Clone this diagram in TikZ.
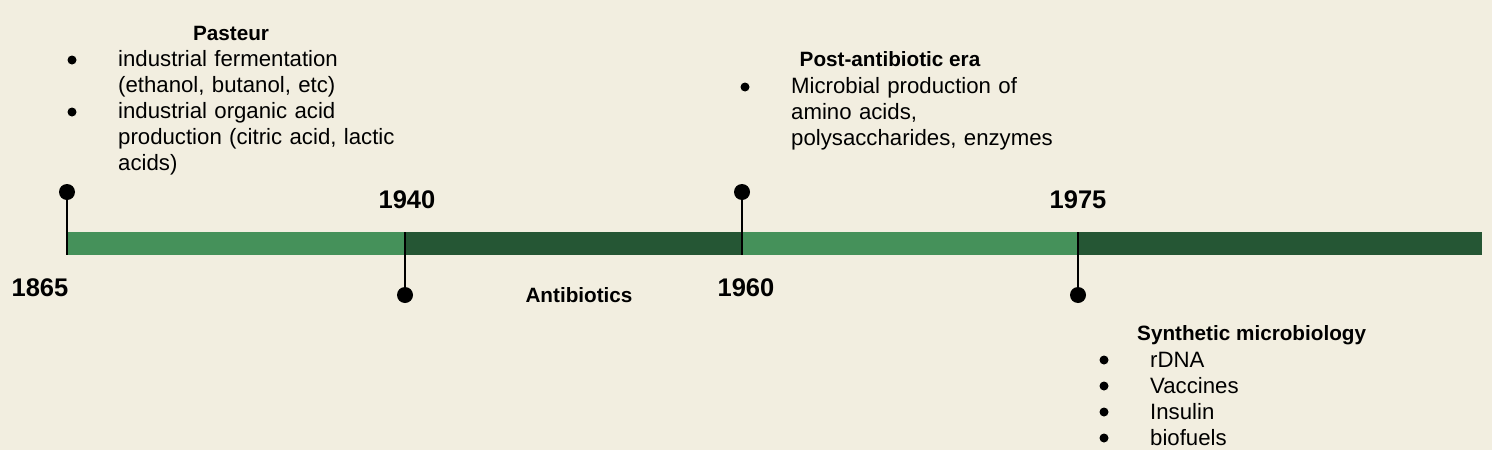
\documentclass[tikz,border=0pt]{standalone}
\usepackage{fontspec}
\setmainfont{Liberation Sans}
\definecolor{paper}{HTML}{F2EEE0}
\definecolor{lightgreen}{HTML}{45915A}
\definecolor{darkgreen}{HTML}{255634}
\begin{document}
\begin{tikzpicture}[x=1pt,y=-1pt,
	dot/.style={shape=circle,fill=black,inner sep=0pt,minimum size=16pt},
	bullet/.style={shape=circle,fill=black,inner sep=0pt,minimum size=9pt},
	stem/.style={draw=black,line width=1.5pt},
	year/.style={font=\fontsize{25.5}{30}\selectfont\bfseries,inner sep=0pt,anchor=base},
	head/.style={font=\fontsize{20.7}{26}\selectfont\bfseries,inner sep=0pt,anchor=base},
	item/.style={font=\fontsize{22.2}{26}\selectfont,inner sep=0pt,anchor=base west,text width=#1,align=left}]

	% background
	\fill[paper] (0,0) rectangle (1492,450);
	\useasboundingbox (0,0) rectangle (1492,450);

	% timeline bar
	\fill[lightgreen] (67,232) rectangle (405,255);
	\fill[darkgreen]  (405,232) rectangle (742,255);
	\fill[lightgreen] (742,232) rectangle (1078,255);
	\fill[darkgreen]  (1078,232) rectangle (1482,255);

	% event markers
	\node[dot] (d1865) at (67,192)   {};
	\node[dot] (d1940) at (405,295)  {};
	\node[dot] (d1960) at (742,192)  {};
	\node[dot] (d1975) at (1078,295) {};
	\coordinate (e1865) at (67,255);
	\coordinate (e1940) at (405,232);
	\coordinate (e1960) at (742,255);
	\coordinate (e1975) at (1078,232);

	\path[stem] (d1865.center) edge (e1865);
	\path[stem] (d1940.center) edge (e1940);
	\path[stem] (d1960.center) edge (e1960);
	\path[stem] (d1975.center) edge (e1975);

	% years
	\node[year] (y1865) at (40,296)   {1865};
	\node[year] (y1940) at (407,208)  {1940};
	\node[year] (y1960) at (746,296)  {1960};
	\node[year] (y1975) at (1078,208) {1975};

	% Pasteur
	\node[head] (pasteur) at (231,40) {Pasteur};
	\node[bullet] (pb1) at (72,60)  {};
	\node[bullet] (pb2) at (72,112) {};
	\node[item=320pt] (pt1) at (118,66)  {industrial fermentation\\(ethanol, butanol, etc)};
	\node[item=320pt] (pt2) at (118,118) {industrial organic acid\\production (citric acid, lactic\\acids)};

	% antibiotics
	\node[head] (anti) at (579,302) {Antibiotics};

	% post-antibiotic era
	\node[head] (post) at (890,66) {Post-antibiotic era};
	\node[bullet] (qb1) at (745,87) {};
	\node[item=320pt] (qt1) at (791,93) {Microbial production of\\amino acids,\\polysaccharides, enzymes};

	% synthetic microbiology
	\node[head,anchor=base west] (synth) at (1137,340) {Synthetic microbiology};
	\node[bullet] (sb1) at (1104,360) {};
	\node[bullet] (sb2) at (1104,386) {};
	\node[bullet] (sb3) at (1104,412) {};
	\node[bullet] (sb4) at (1104,438) {};
	\node[item=200pt] (st1) at (1150,367) {rDNA};
	\node[item=200pt] (st2) at (1150,393) {Vaccines};
	\node[item=200pt] (st3) at (1150,419) {Insulin};
	\node[item=200pt] (st4) at (1150,445) {biofuels};

\end{tikzpicture}
\end{document}
